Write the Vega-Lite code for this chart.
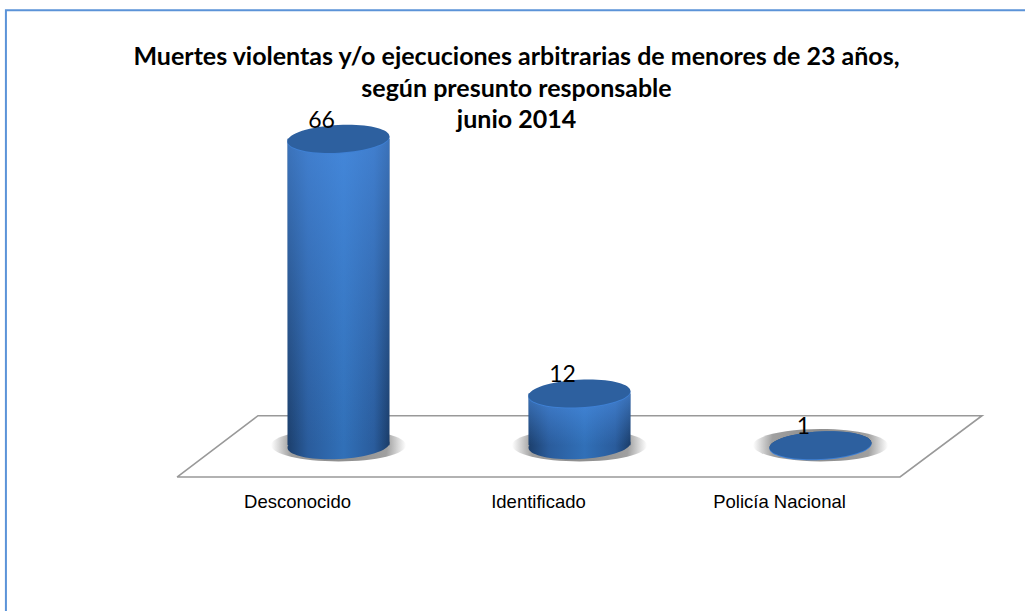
{
"$schema":"https://vega.github.io/schema/vega-lite/v6.json",
"width":723,"height":330,
"autosize":{"type":"none"},
"padding":{"left":218,"top":120,"right":84,"bottom":161},
"background":"white",
"config":{"view":{"stroke":null}},
"title":{"text":["Muertes violentas y/o ejecuciones arbitrarias de menores de 23 años,","según presunto responsable","junio 2014"],"font":"Lato","fontWeight":"bold","fontSize":25,"lineHeight":31.5,"color":"#000000","anchor":"middle","dx":-63,"offset":-127},
"data":{"values":[{"responsable":"Desconocido","muertes":66},{"responsable":"Identificado","muertes":12},{"responsable":"Policía Nacional","muertes":1}]},
"layer":[
{"data":{"values":[{"fx":-0.88,"fy":-34.4,"o":1},{"fx":-0.88,"fy":93.3,"o":2},{"fx":3.35,"fy":93.3,"o":3}]},
 "mark":{"type":"line","stroke":"#5b93d8","strokeWidth":2},
 "encoding":{"x":{"field":"fx","type":"quantitative","scale":{"domain":[0,3]},"axis":null},"y":{"field":"fy","type":"quantitative","scale":{"domain":[0,70]},"axis":null},"order":{"field":"o"}}},
{"data":{"values":[{"fx":-0.17,"fy":-5.73,"o":1},{"fx":0.166,"fy":7.28,"o":2},{"fx":3.17,"fy":7.28,"o":3},{"fx":2.83,"fy":-5.73,"o":4},{"fx":-0.17,"fy":-5.73,"o":5}]},
 "mark":{"type":"line","stroke":"#999999","strokeWidth":1.6},
 "encoding":{"x":{"field":"fx","type":"quantitative","scale":{"domain":[0,3]},"axis":null},"y":{"field":"fy","type":"quantitative","scale":{"domain":[0,70]},"axis":null},"order":{"field":"o"}}},
{"layer":[
 {"mark":{"type":"point","filled":true,"opacity":1,"size":18225,"shape":"M-1,0 A1,0.24 0 1,1 1,0 A1,0.24 0 1,1 -1,0 Z","fill":{"gradient":"radial","stops":[{"offset":0,"color":"#888888"},{"offset":0.72,"color":"#a0a0a0"},{"offset":1,"color":"#ffffff"}]}},
  "encoding":{"x":{"field":"responsable","type":"nominal","sort":null,"axis":{"title":null,"domain":false,"ticks":false,"labelAngle":0,"labelOffset":-41,"labelPadding":42,"labelFont":"Liberation Sans","labelFontSize":18.5,"labelColor":"#000000"}},"y":{"datum":1,"type":"quantitative","scale":{"domain":[0,70]},"axis":null}}},
 {"mark":{"type":"point","filled":true,"opacity":1,"size":10404,"shape":"M-1,0.05 A1,0.27 -3 1,0 1,-0.05 A1,0.27 -3 1,0 -1,0.05 Z","fill":{"gradient":"linear","x1":0,"x2":1,"y1":0,"y2":0,"stops":[{"offset":0,"color":"#1c3f6c"},{"offset":0.2,"color":"#2a5c9c"},{"offset":0.55,"color":"#3170b8"},{"offset":0.85,"color":"#2a5c9c"},{"offset":1,"color":"#1a3c68"}]}},
  "encoding":{"x":{"field":"responsable","type":"nominal","sort":null},"y":{"datum":1,"type":"quantitative"}}},
 {"mark":{"type":"bar","size":102,"fill":{"gradient":"linear","x1":0,"x2":1,"y1":0,"y2":0,"stops":[{"offset":0,"color":"#1c3f6c"},{"offset":0.2,"color":"#2a5c9c"},{"offset":0.55,"color":"#3170b8"},{"offset":0.85,"color":"#2a5c9c"},{"offset":1,"color":"#1a3c68"}]}},
  "encoding":{"x":{"field":"responsable","type":"nominal","sort":null},"y":{"field":"muertes","type":"quantitative"},"y2":{"datum":1}}},
 {"mark":{"type":"bar","size":102,"fill":{"gradient":"linear","x1":0,"x2":0,"y1":0,"y2":1,"stops":[{"offset":0,"color":"rgba(80,150,240,0.6)"},{"offset":1,"color":"rgba(80,150,240,0)"}]}},
  "encoding":{"x":{"field":"responsable","type":"nominal","sort":null},"y":{"field":"muertes","type":"quantitative"},"y2":{"datum":1}}},
 {"mark":{"type":"point","filled":true,"opacity":1,"size":10404,"yOffset":1,"shape":"M-1,0.05 A1,0.27 -3 1,0 1,-0.05 A1,0.27 -3 1,0 -1,0.05 Z","fill":"#3f80d4"},
  "encoding":{"x":{"field":"responsable","type":"nominal","sort":null},"y":{"field":"muertes","type":"quantitative"}}},
 {"mark":{"type":"point","filled":true,"opacity":1,"size":10404,"shape":"M-1,0.05 A1,0.27 -3 1,0 1,-0.05 A1,0.27 -3 1,0 -1,0.05 Z","fill":"#2d609f"},
  "encoding":{"x":{"field":"responsable","type":"nominal","sort":null},"y":{"field":"muertes","type":"quantitative"}}},
 {"mark":{"type":"text","font":"Lato","fontSize":23,"color":"#000000","dx":-17,"dy":-18,"align":"center","baseline":"middle"},
  "encoding":{"x":{"field":"responsable","type":"nominal","sort":null},"y":{"field":"muertes","type":"quantitative"},"text":{"field":"muertes","type":"quantitative"}}}
]}
],
"resolve":{"scale":{"x":"independent"},"axis":{"x":"independent"}}
}
